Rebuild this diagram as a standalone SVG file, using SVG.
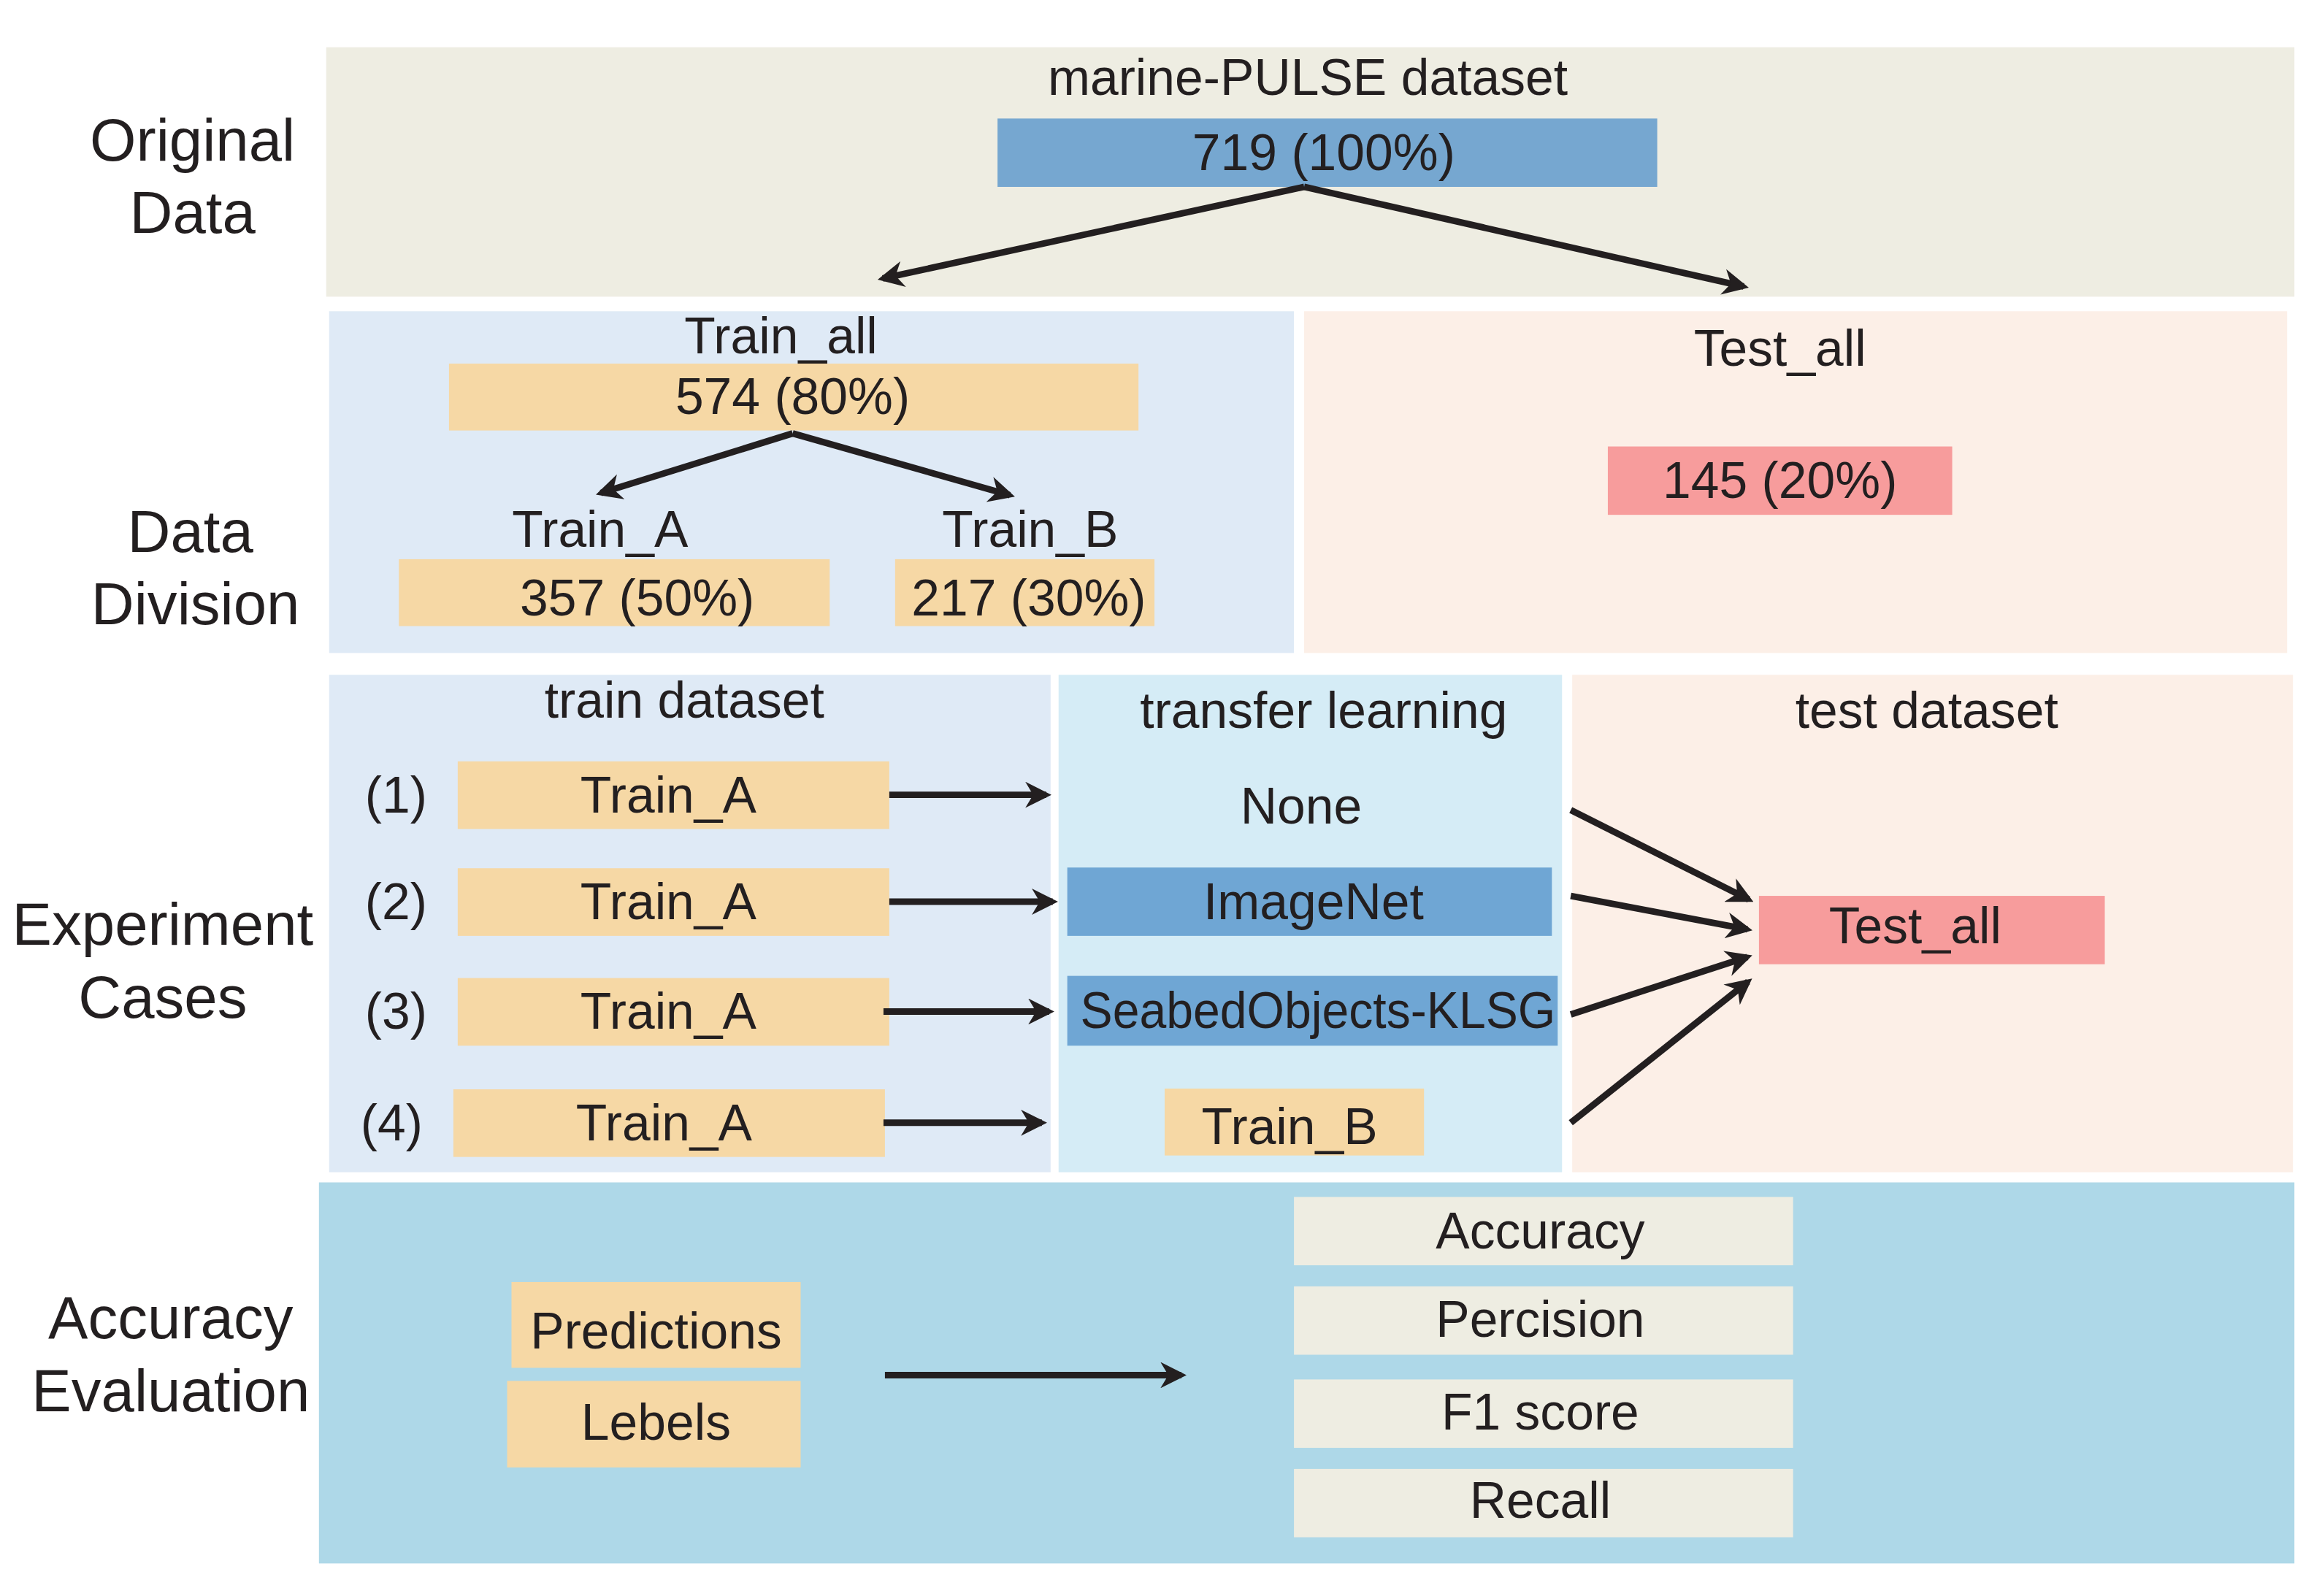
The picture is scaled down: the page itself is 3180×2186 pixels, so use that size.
<svg xmlns="http://www.w3.org/2000/svg" width="3180" height="2186" viewBox="0 0 3180 2186">
<defs>
<style>
text{font-family:"Liberation Sans",Arial,sans-serif;fill:#231f20;text-anchor:middle;dominant-baseline:central}
.lab{font-size:82px}.t{font-size:70px}
.y{fill:#f6d8a5}.c{stroke:#231f20;stroke-width:9;fill:none;marker-end:url(#a)}
.m{fill:#eeede2}
</style>
<marker id="a" viewBox="0 0 10 10" refX="8" refY="5" markerWidth="4" markerHeight="4" orient="auto" markerUnits="strokeWidth"><path d="M0,0 L10,5 L0,10 L3,5 z" fill="#231f20"/></marker>
</defs>
<rect width="3180" height="2186" fill="#fff"/>
<g transform="scale(0.995,0.996)">
<g id="bands">
<rect x="449" y="65" width="2709" height="343" fill="#eeede2"/>
<rect x="453" y="428" width="1328" height="470" fill="#dfeaf6"/>
<rect x="1795" y="428" width="1353" height="470" fill="#fcefe7"/>
<rect x="453" y="928" width="993" height="684" fill="#dfeaf6"/>
<rect x="1457" y="928" width="693" height="684" fill="#d5ecf6"/>
<rect x="2164" y="928" width="992" height="684" fill="#fcefe7"/>
<rect x="439" y="1626" width="2719" height="524" fill="#aed8e8"/>
</g>
<g id="labels">
<text class="lab" x="265" y="192">Original</text><text class="lab" x="265" y="292">Data</text>
<text class="lab" x="262" y="730">Data</text><text class="lab" x="269" y="830">Division</text>
<text class="lab" x="224" y="1271">Experiment</text><text class="lab" x="224" y="1371">Cases</text>
<text class="lab" x="235" y="1812">Accuracy</text><text class="lab" x="235" y="1912">Evaluation</text>
</g>
<g id="n-dataset"><text class="t" x="1800" y="106">marine-PULSE dataset</text>
<rect x="1373" y="163" width="908" height="94" fill="#76a7d0"/><text class="t" x="1822" y="210">719 (100%)</text></g>
<g id="n-trainall"><text class="t" x="1075" y="462">Train_all</text>
<rect class="y" x="618" y="500" width="949" height="92"/><text class="t" x="1091" y="545">574 (80%)</text></g>
<g id="n-trainA"><text class="t" x="826" y="728">Train_A</text>
<rect class="y" x="549" y="769" width="593" height="92"/><text class="t" x="877" y="822">357 (50%)</text></g>
<g id="n-trainB"><text class="t" x="1418" y="728">Train_B</text>
<rect class="y" x="1232" y="769" width="357" height="92"/><text class="t" x="1416" y="822">217 (30%)</text></g>
<g id="n-testall"><text class="t" x="2450" y="479">Test_all</text>
<rect x="2213" y="614" width="474" height="94" fill="#f79c9c"/><text class="t" x="2450" y="661">145 (20%)</text></g>
<g id="headers">
<text class="t" x="942" y="963">train dataset</text>
<text class="t" x="1822" y="977">transfer learning</text>
<text class="t" x="2652" y="977">test dataset</text>
</g>
<g id="cases">
<text class="t" x="545" y="1093">(1)</text><rect class="y" x="630" y="1047" width="594" height="93"/><text class="t" x="920" y="1093">Train_A</text>
<text class="t" x="545" y="1240">(2)</text><rect class="y" x="630" y="1194" width="594" height="93"/><text class="t" x="920" y="1240">Train_A</text>
<text class="t" x="545" y="1391">(3)</text><rect class="y" x="630" y="1345" width="594" height="93"/><text class="t" x="920" y="1391">Train_A</text>
<text class="t" x="539" y="1544">(4)</text><rect class="y" x="624" y="1498" width="594" height="93"/><text class="t" x="914" y="1544">Train_A</text>
</g>
<g id="transfer">
<text class="t" x="1791" y="1108">None</text>
<rect x="1469" y="1193" width="667" height="94" fill="#6fa6d4"/><text class="t" x="1808" y="1240">ImageNet</text>
<rect x="1469" y="1342" width="675" height="96" fill="#6fa6d4"/><text class="t" x="1814" y="1390" textLength="654" lengthAdjust="spacingAndGlyphs">SeabedObjects-KLSG</text>
<rect class="y" x="1603" y="1497" width="357" height="92"/><text class="t" x="1775" y="1549">Train_B</text>
</g>
<g id="n-test"><rect x="2421" y="1232" width="476" height="94" fill="#f79c9c"/><text class="t" x="2636" y="1273">Test_all</text></g>
<g id="n-pred"><rect class="y" x="704" y="1763" width="398" height="118"/><text class="t" x="903" y="1830">Predictions</text>
<rect class="y" x="698" y="1899" width="404" height="119"/><text class="t" x="903" y="1956">Lebels</text></g>
<g id="metrics">
<rect class="m" x="1781" y="1646" width="687" height="94"/><text class="t" x="2120" y="1693">Accuracy</text>
<rect class="m" x="1781" y="1769" width="687" height="94"/><text class="t" x="2120" y="1814">Percision</text>
<rect class="m" x="1781" y="1897" width="687" height="94"/><text class="t" x="2120" y="1942">F1 score</text>
<rect class="m" x="1781" y="2020" width="687" height="94"/><text class="t" x="2120" y="2063">Recall</text>
</g>
<g id="connectors">
<line class="c" x1="1795" y1="257" x2="1215" y2="383"/>
<line class="c" x1="1795" y1="257" x2="2400" y2="394"/>
<line class="c" x1="1091" y1="596" x2="827" y2="678"/>
<line class="c" x1="1091" y1="596" x2="1390" y2="681"/>
<line class="c" x1="1224" y1="1093" x2="1440" y2="1093"/>
<line class="c" x1="1224" y1="1240" x2="1449" y2="1240"/>
<line class="c" x1="1216" y1="1391" x2="1444" y2="1391"/>
<line class="c" x1="1216" y1="1544" x2="1434" y2="1544"/>
<line class="c" x1="2162" y1="1114" x2="2407" y2="1237"/>
<line class="c" x1="2162" y1="1232" x2="2405" y2="1278"/>
<line class="c" x1="2162" y1="1395" x2="2405" y2="1316"/>
<line class="c" x1="2162" y1="1544" x2="2406" y2="1350"/>
<line class="c" x1="1218" y1="1891" x2="1626" y2="1891"/>
</g>
</g>
</svg>
